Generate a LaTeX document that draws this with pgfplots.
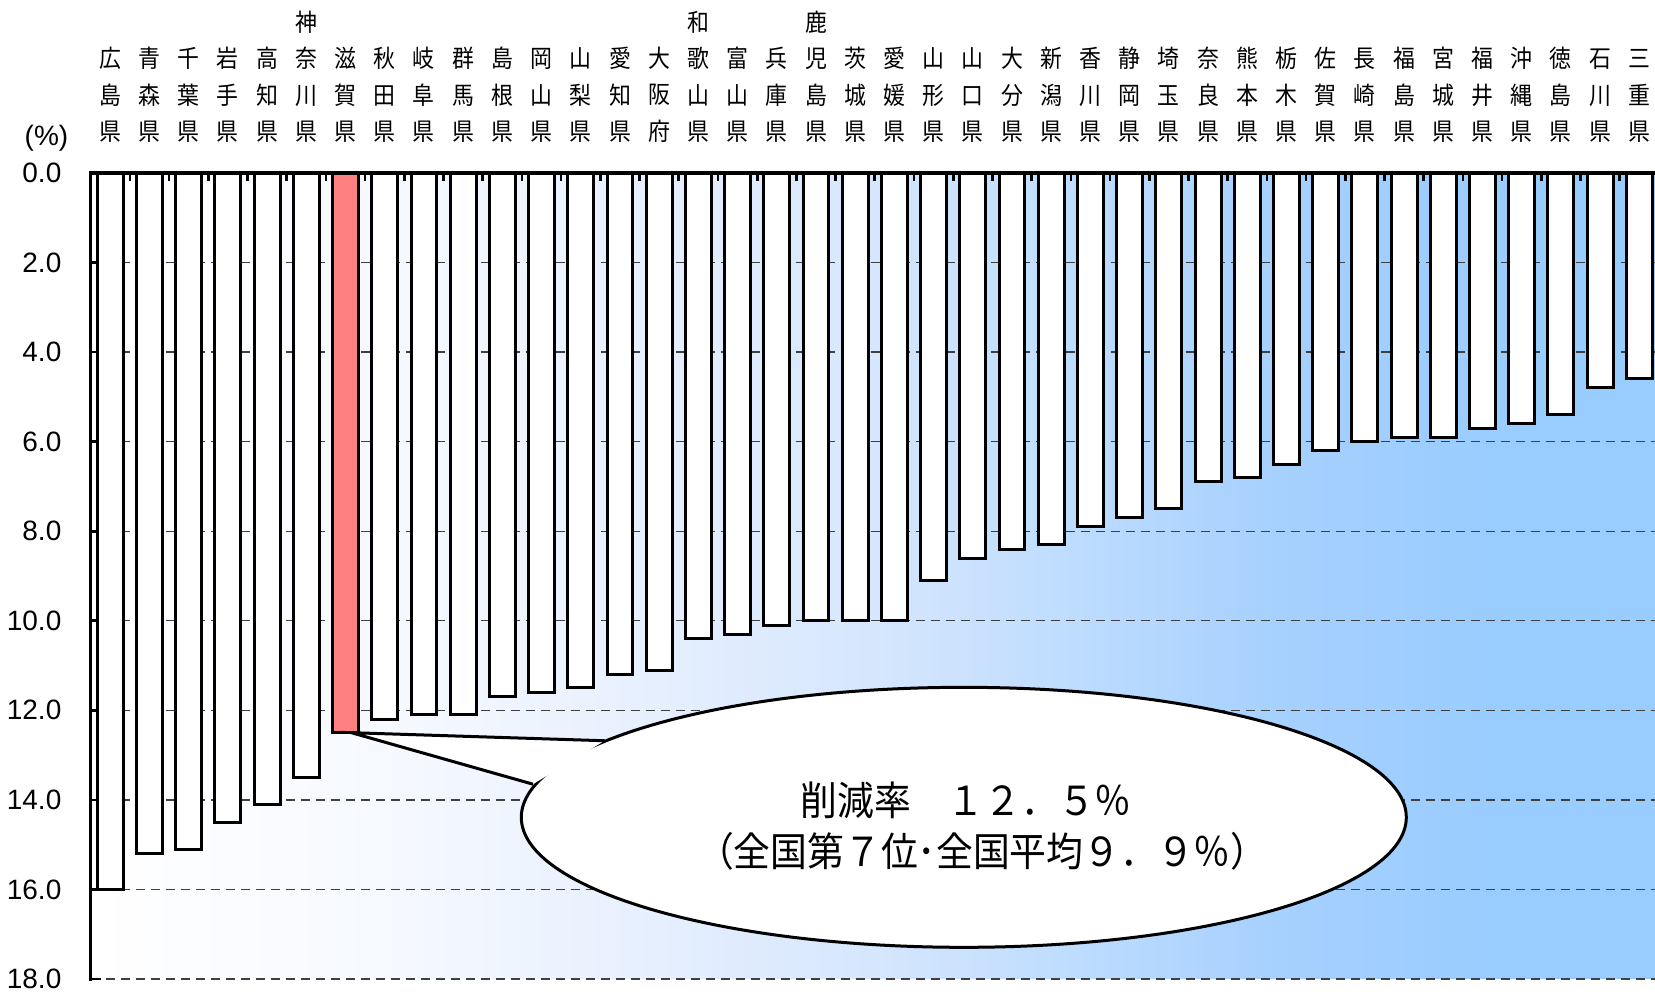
\documentclass[border=0pt]{standalone}
\usepackage{fontspec}
\usepackage{pgfplots}
\usepackage{pgfplotstable}
\pgfplotsset{compat=1.18}
\setmainfont{Liberation Sans}
\newfontfamily\jplabel[FakeStretch=0.9]{Noto Sans CJK JP}
\newfontfamily\jpnote[FakeStretch=0.92]{Noto Sans CJK JP}

\definecolor{bg1}{HTML}{F6F9FF}
\definecolor{bg2}{HTML}{EBF2FE}
\definecolor{bg3}{HTML}{D5E6FD}
\definecolor{bg4}{HTML}{BDDCFE}
\definecolor{bg5}{HTML}{A6D0FE}
\definecolor{bg6}{HTML}{99CCFF}
\definecolor{shiga}{HTML}{FF8080}

\pgfdeclarehorizontalshading{bgshade}{100bp}{color(0bp)=(white); color(25bp)=(white);
  color(34.3bp)=(bg1); color(40.7bp)=(bg2); color(50.2bp)=(bg3); color(56.6bp)=(bg4);
  color(63bp)=(bg5); color(70bp)=(bg6); color(100bp)=(bg6)}

% reduction rate by prefecture (%)
\pgfplotstableread{
idx val
0  16.0
1  15.2
2  15.1
3  14.5
4  14.1
5  13.5
6  12.5
7  12.2
8  12.1
9  12.1
10 11.7
11 11.6
12 11.5
13 11.2
14 11.1
15 10.4
16 10.3
17 10.1
18 10.0
19 10.0
20 10.0
21 9.1
22 8.6
23 8.4
24 8.3
25 7.9
26 7.7
27 7.5
28 6.9
29 6.8
30 6.5
31 6.2
32 6.0
33 5.9
34 5.9
35 5.7
36 5.6
37 5.4
38 4.8
39 4.6
}\ratedata

\pgfplotstableread{
idx val
6 12.5
}\shigadata

\begin{document}
\begin{tikzpicture}
\begin{axis}[
  scale only axis, width=469.3pt, height=241.8pt,
  xmin=-0.5, xmax=39.4, ymin=0, ymax=18,
  y dir=reverse,
  clip=false,
  axis line style={draw=none},
  axis background/.style={shade, shading=bgshade},
  ytick={0,2,...,18},
  ytick pos=left,
  /pgf/number format/assume math mode=true,
  yticklabel style={anchor=east, inner sep=0pt, xshift=-8.6pt,
    font=\fontsize{8.4}{10}\selectfont,
    /pgf/number format/fixed, /pgf/number format/fixed zerofill,
    /pgf/number format/precision=1},
  major tick length=3pt,
  minor tick length=2.5pt,
  tick style={black, line width=0.8pt},
  ymajorgrids,
  grid style={black!75, line width=0.4pt, dash pattern=on 2.7pt off 1.8pt},
  xtick={0,...,39},
  xtick pos=upper,
  xticklabel pos=upper,
  major x tick style={draw=none},
  minor xtick={0.5,1.5,...,38.5},
  xticklabels={{広\\島\\県},{青\\森\\県},{千\\葉\\県},{岩\\手\\県},{高\\知\\県},
    {神\\奈\\川\\県},{滋\\賀\\県},{秋\\田\\県},{岐\\阜\\県},{群\\馬\\県},
    {島\\根\\県},{岡\\山\\県},{山\\梨\\県},{愛\\知\\県},{大\\阪\\府},
    {和\\歌\\山\\県},{富\\山\\県},{兵\\庫\\県},{鹿\\児\\島\\県},{茨\\城\\県},
    {愛\\媛\\県},{山\\形\\県},{山\\口\\県},{大\\分\\県},{新\\潟\\県},
    {香\\川\\県},{静\\岡\\県},{埼\\玉\\県},{奈\\良\\県},{熊\\本\\県},
    {栃\\木\\県},{佐\\賀\\県},{長\\崎\\県},{福\\島\\県},{宮\\城\\県},
    {福\\井\\県},{沖\\縄\\県},{徳\\島\\県},{石\\川\\県},{三\\重\\県}},
  xticklabel style={anchor=south, inner sep=0pt, yshift=9pt, align=center,
    font=\jplabel\fontsize{7.3}{10.9}\selectfont},
]
\addplot[ybar, bar width=0.66, bar shift=0pt, fill=white, draw=black, line width=0.9pt]
  table[x=idx, y=val] {\ratedata};
\addplot[ybar, bar width=0.66, bar shift=0pt, fill=shiga, draw=black, line width=0.9pt]
  table[x=idx, y=val] {\shigadata};

% axis lines
\draw[line width=1pt, line cap=rect] (axis cs:-0.5,18) -- (axis cs:-0.5,0) -- (axis cs:39.4,0);

% callout for Shiga
\filldraw[fill=white, draw=black, line width=0.9pt]
  (axis cs:21.77,14.39) ellipse [x radius=132.75pt, y radius=39pt];
\fill[white] (axis cs:12.61,12.68) -- (axis cs:6.15,12.5) -- (axis cs:10.78,13.65) -- cycle;
\draw[line width=0.9pt, line join=miter] (axis cs:12.61,12.68) -- (axis cs:6.15,12.5) -- (axis cs:10.78,13.65);
\node[font=\jpnote\fontsize{12}{14}\selectfont] at (axis cs:21.83,14.0) {削減率　１２．５％};
\node[font=\jpnote\fontsize{12}{14}\selectfont] at (axis cs:22.24,15.14) {（全国第７位･全国平均９．９％）};

\node[font=\fontsize{8.4}{10}\selectfont] at (axis cs:-1.627,-0.78) {(\%)};

\coordinate (bbSW) at (axis cs:-2.813,18.357);
\coordinate (bbNE) at (axis cs:39.4,-3.863);
\end{axis}
\pgfresetboundingbox
\path[use as bounding box] (bbSW) rectangle (bbNE);
\end{tikzpicture}
\end{document}
